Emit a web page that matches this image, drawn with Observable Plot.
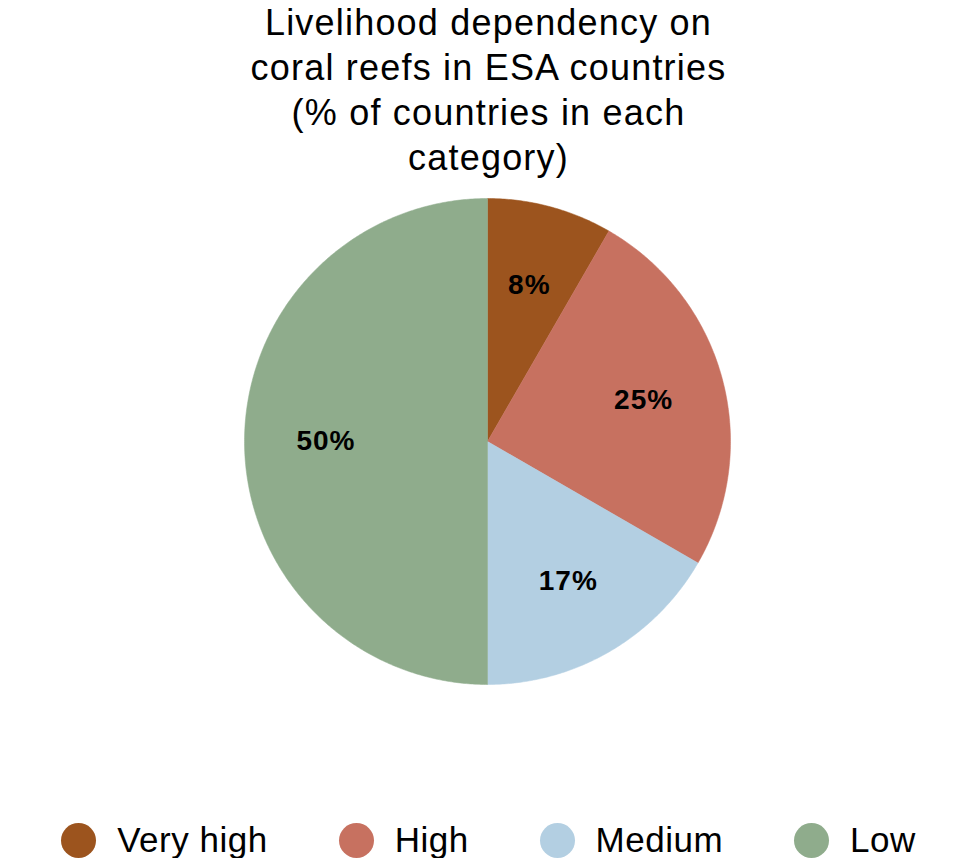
<!DOCTYPE html>
<html><head><meta charset="utf-8">
<script src="https://cdn.jsdelivr.net/npm/d3@7"></script>
<script src="https://cdn.jsdelivr.net/npm/@observablehq/plot@0.6"></script>
<style>
body{margin:0;background:#fff;font-family:"Liberation Sans",Arial,Helvetica,sans-serif;color:#000;}
#title{width:977px;text-align:center;font-size:36px;letter-spacing:1.2px;line-height:45px;padding-top:0;margin:0;}
#chart{width:977px;height:560px;}
#chart svg text{letter-spacing:1px;}
#legend{width:977px;display:flex;justify-content:center;align-items:center;gap:71px;margin-top:82px;font-size:35px;letter-spacing:0.5px;line-height:36px;}
.item{display:flex;align-items:center;}
.sw{width:35px;height:35px;border-radius:50%;margin-right:21px;}
</style></head><body>
<div id="title">Livelihood dependency on<br>coral reefs in ESA countries<br>(% of countries in each<br>category)</div>
<div id="chart"></div>
<div id="legend"></div>
<script>
const categories = ["Very high", "High", "Medium", "Low"];
const shares = [8.33, 25, 16.67, 50];
const labels = ["8%", "25%", "17%", "50%"];
const colors = ["#9c541e", "#c77160", "#b3cfe2", "#8fac8c"];

const W = 977, H = 560, R = 243, CX = 487, CY = 261;
const total = d3.sum(shares);
// build slice polygons (unit radius) from the shares
const slices = [];
const labelPts = [];
let acc = 0;
categories.forEach((c, i) => {
  const a0 = acc / total * 2 * Math.PI;
  acc += shares[i];
  const a1 = acc / total * 2 * Math.PI;
  slices.push({category: c, x: 0, y: 0});
  const n = Math.max(2, Math.ceil((a1 - a0) / (Math.PI / 360)));
  for (let k = 0; k <= n; k++) {
    const a = a0 + (a1 - a0) * k / n;
    slices.push({category: c, x: Math.sin(a), y: Math.cos(a)});
  }
  slices.push({category: c, x: 0, y: 0});
  const am = (a0 + a1) / 2, rl = 0.665;
  labelPts.push({category: c, label: labels[i], x: rl * Math.sin(am), y: rl * Math.cos(am)});
});

const chart = Plot.plot({
  width: W, height: H,
  margin: 0,
  x: {domain: [-CX / R, (W - CX) / R], axis: null},
  y: {domain: [-(H - CY) / R, CY / R], axis: null},
  color: {domain: categories, range: colors},
  style: {fontFamily: '"Liberation Sans", Arial, Helvetica, sans-serif', background: "white"},
  marks: [
    Plot.line(slices, {x: "x", y: "y", z: "category", fill: "category", stroke: "category", strokeWidth: 0.5, curve: "linear"}),
    Plot.text(labelPts, {x: "x", y: "y", text: "label", fontSize: 28, fontWeight: "bold", fill: "black"})
  ]
});
document.getElementById("chart").appendChild(chart);

const legend = document.getElementById("legend");
categories.forEach((c, i) => {
  const it = document.createElement("div");
  it.className = "item";
  const sw = document.createElement("span");
  sw.className = "sw";
  sw.style.background = colors[i];
  const t = document.createElement("span");
  t.textContent = c;
  it.appendChild(sw); it.appendChild(t);
  legend.appendChild(it);
});
</script>
</body></html>
